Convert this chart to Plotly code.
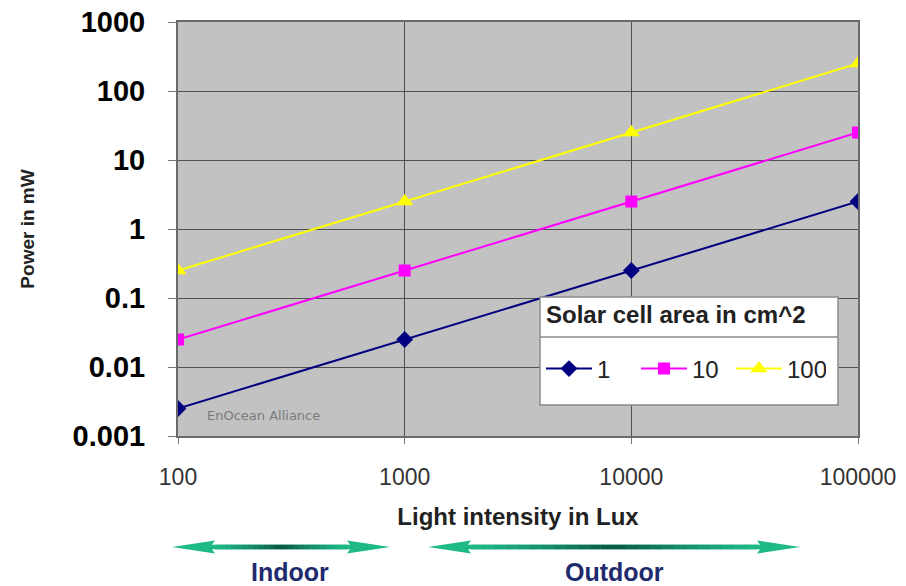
import plotly.graph_objects as go

# ---- data ----
lux = [100, 1000, 10000, 100000]
area_labels = ["1", "10", "100"]
power_1 = [0.0025, 0.025, 0.25, 2.5]
power_10 = [0.025, 0.25, 2.5, 25]
power_100 = [0.25, 2.5, 25, 250]
y_ticks = [0.001, 0.01, 0.1, 1, 10, 100, 1000]
y_ticktext = ["0.001", "0.01", "0.1", "1", "10", "100", "1000"]
x_ticks = [100, 1000, 10000, 100000]
x_ticktext = ["100", "1000", "10000", "100000"]
legend_title = "Solar cell area in cm^2"

series = [
    (area_labels[0], power_1, "#000080", "diamond", 13),
    (area_labels[1], power_10, "#ff00ff", "square", 12),
    (area_labels[2], power_100, "#ffff00", "triangle-up", 15),
]

fig = go.Figure()
for name, vals, col, sym, size in series:
    fig.add_trace(go.Scatter(
        x=lux, y=vals, name=name, mode="lines+markers",
        line=dict(color=col, width=2),
        marker=dict(symbol=sym, size=size, color=col),
    ))

W, H = 906, 586
ML, MR, MT, MB = 178, 48, 22, 150
PW, PH = W - ML - MR, H - MT - MB


def px2paper(px, py):
    return (px - ML) / PW, (H - MB - py) / PH


shapes = []
annotations = []

# legend boxes (drawn as shapes behind the transparent legend)
lx0, ly0 = px2paper(540, 297)
lx1, ly1 = px2paper(838, 337)
lx2, ly2 = px2paper(838, 405)
shapes.append(dict(type="rect", xref="paper", yref="paper", x0=lx0, x1=lx2, y0=ly2, y1=ly0,
                   fillcolor="white", line=dict(color="#8a8a8a", width=1.5), layer="above"))
shapes.append(dict(type="line", xref="paper", yref="paper", x0=lx0, x1=lx1, y0=ly1, y1=ly1,
                   line=dict(color="#8a8a8a", width=1.5), layer="above"))
tx, ty = px2paper(544, 314)
annotations.append(dict(text="<b>" + legend_title + "</b>", x=tx, y=ty, xref="paper", yref="paper",
                        showarrow=False, xanchor="left", yanchor="middle",
                        font=dict(family="Arial", size=24, color="#222")))


def mix(c1, c2, t):
    a = [int(c1[i:i + 2], 16) for i in (1, 3, 5)]
    b = [int(c2[i:i + 2], 16) for i in (1, 3, 5)]
    return "#%02x%02x%02x" % tuple(int(round(a[k] + (b[k] - a[k]) * t)) for k in range(3))


def arrow(px0, px1, py):
    cx = (px0 + px1) / 2
    L = (px1 - px0) / 2
    hl, hh, sw = 43, 6.5, 2.3
    ax, ay = px2paper(cx, py)
    light, dark = "#1fb887", "#0a5646"
    path = (f"M {-L},0 L {-L+hl},{hh} L {-L+hl-3},{sw} L {L-hl+3},{sw} L {L-hl},{hh} L {L},0 "
            f"L {L-hl},{-hh} L {L-hl+3},{-sw} L {-L+hl-3},{-sw} L {-L+hl},{-hh} Z")
    shapes.append(dict(type="path", xref="paper", yref="paper", xsizemode="pixel", ysizemode="pixel",
                       xanchor=ax, yanchor=ay, path=path, fillcolor=light, line=dict(width=0)))
    n = 24
    s0, s1 = -L + hl, L - hl
    step = (s1 - s0) / n
    for i in range(n):
        a0 = s0 + i * step
        mid = a0 + step / 2
        t = 1 - abs(mid) / (L - hl)
        col = mix(light, dark, max(0, t) ** 1.3)
        shapes.append(dict(type="rect", xref="paper", yref="paper", xsizemode="pixel", ysizemode="pixel",
                           xanchor=ax, yanchor=ay, x0=a0, x1=a0 + step + 0.6, y0=-sw, y1=sw,
                           fillcolor=col, line=dict(width=0)))


arrow(172, 390, 547)
arrow(428, 800, 547)

ix, iy = px2paper(290, 572)
ox, oy = px2paper(614, 572)
for txt, xx, yy in [("Indoor", ix, iy), ("Outdoor", ox, oy)]:
    annotations.append(dict(text="<b>" + txt + "</b>", x=xx, y=yy, xref="paper", yref="paper", showarrow=False,
                            font=dict(family="Arial", size=25, color="#1f2b6c"),
                            xanchor="center", yanchor="middle"))

wx, wy = px2paper(205, 415)
annotations.append(dict(text="EnOcean Alliance", x=wx, y=wy, xref="paper", yref="paper", showarrow=False,
                        font=dict(family="DejaVu Sans", size=13, color="#7a7a7a"),
                        xanchor="left", yanchor="middle"))

gx, gy = px2paper(541, 369)
fig.update_layout(
    width=W, height=H,
    margin=dict(l=ML, r=MR, t=MT, b=MB, autoexpand=False),
    paper_bgcolor="white",
    plot_bgcolor="#c2c2c2",
    font=dict(family="Arial", color="black"),
    shapes=shapes,
    annotations=annotations,
    legend=dict(
        orientation="h",
        x=gx, y=gy, xanchor="left", yanchor="middle",
        bgcolor="rgba(0,0,0,0)",
        borderwidth=0,
        font=dict(family="Arial", size=24, color="#222"),
        itemwidth=46,
        entrywidth=34,
    ),
    xaxis=dict(
        type="log", range=[2, 5], automargin=False,
        tickvals=x_ticks, ticktext=x_ticktext,
        tickfont=dict(family="Arial", size=23, color="#333"),
        showgrid=True, gridcolor="#505050", gridwidth=1.2,
        showline=True, linecolor="#6a6a6a", linewidth=2, mirror=True,
        ticks="outside", ticklen=6, tickcolor="#777",
        ticklabelstandoff=13,
        title=dict(text="<b>Light intensity in Lux</b>", font=dict(family="Arial", size=24, color="#222"),
                   standoff=20),
        zeroline=False,
    ),
    yaxis=dict(
        type="log", range=[-3, 3], automargin=False,
        tickvals=y_ticks, ticktext=y_ticktext,
        tickfont=dict(family="Arial", size=29, color="black", weight="bold"),
        showgrid=True, gridcolor="#505050", gridwidth=1.2,
        showline=True, linecolor="#6a6a6a", linewidth=2, mirror=True,
        ticks="outside", ticklen=8, tickcolor="#777",
        ticklabelstandoff=17,
        title=dict(text="<b>Power in mW</b>", font=dict(family="Arial", size=19, color="#222"),
                   standoff=33),
        zeroline=False,
    ),
)

fig.write_html("out.html", config={"displayModeBar": False},
               post_script="document.body.style.margin='0';")
